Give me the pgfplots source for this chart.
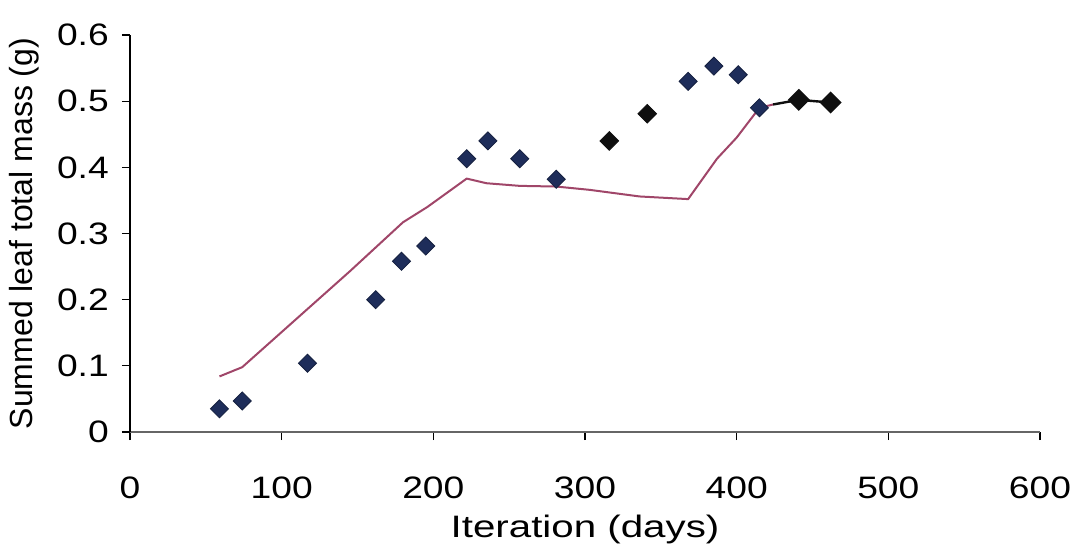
\documentclass[border=0pt]{standalone}
\usepackage{pgfplots}
\pgfplotsset{compat=1.18}
\usepackage{fontspec}
\setmainfont{Liberation Sans}
\definecolor{navy}{RGB}{30,45,90}
\definecolor{simline}{RGB}{160,70,105}
\definecolor{blk}{RGB}{15,15,15}
\begin{document}
\begin{tikzpicture}
\path[use as bounding box] (-65pt,-60.5pt) rectangle (472pt,216pt);
\begin{axis}[
  at={(0,0)}, anchor=south west,
  scale only axis, width=455pt, height=198.5pt,
  xmin=0, xmax=600, ymin=0, ymax=0.6,
  axis x line=bottom, axis y line=left,
  axis line style={-},
  x axis line style={draw=black!60, line width=1.2pt},
  y axis line style={draw=black, line width=0.8pt},
  xtick={0,100,...,600}, ytick={0,0.1,...,0.6},
  tick align=outside, major tick length=4pt,
  tick style={black, line width=0.6pt},
  /pgf/number format/assume math mode=true,
  yticklabel style={/pgf/number format/fixed, /pgf/number format/precision=1, font=\fontsize{15.5}{17}\selectfont, xscale=1.2, xshift=-2pt},
  xticklabel style={font=\fontsize{15.5}{17}\selectfont, xscale=1.2, yshift=-15pt},
  scaled y ticks=false,
  xlabel={Iteration (days)},
  ylabel={Summed leaf total mass (g)},
  xlabel style={font=\fontsize{15.5}{17}\selectfont, xscale=1.3, at={(axis description cs:0.5,0)}, anchor=center, yshift=-48.5pt},
  ylabel style={font=\fontsize{16}{18}\selectfont, at={(axis description cs:-0.116,0.5)}, anchor=center},
  clip=false,
]
% simulated curve
\addplot[simline, line width=1pt, no marks] coordinates {
(59,0.084) (74,0.098) (145,0.243) (180,0.317) (196,0.340) (222,0.383)
(235,0.376) (257,0.372) (281,0.371) (303,0.366) (336,0.356) (368,0.352)
(387,0.413) (400,0.445) (415,0.490) (424,0.495)
};
% black series with line
\addplot[blk, line width=1.2pt, mark=square*, mark size=3.3pt, mark indices={2,3}, mark options={rotate=45, fill=blk, draw=blk}] coordinates {
(424,0.495) (441,0.502) (462,0.498)
};
% black isolated markers
\addplot[only marks, mark=square*, mark size=3.3pt, mark options={rotate=45, fill=blk, draw=blk}] coordinates {
(316,0.440) (341,0.481)
};
% navy observed markers
\addplot[only marks, mark=square*, mark size=3.2pt, mark options={rotate=45, fill=navy, draw=navy!70!black}] coordinates {
(59,0.035) (74,0.047) (117,0.104) (162,0.200) (179,0.258) (195,0.281)
(222,0.413) (236,0.440) (257,0.413) (281,0.382)
(368,0.530) (385,0.553) (401,0.540) (415,0.490)
};
\end{axis}
\end{tikzpicture}
\end{document}
